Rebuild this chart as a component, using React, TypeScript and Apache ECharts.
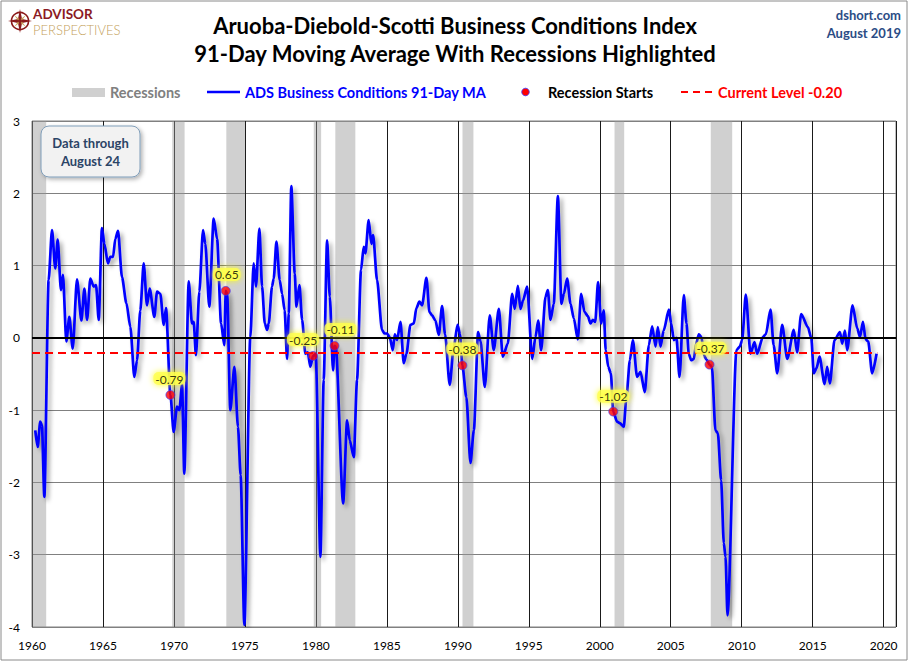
import React, { useEffect, useRef } from "react";
import * as echarts from "echarts";

// ---- Data ----
const adsYears = [
  1960.23, 1960.4, 1960.58, 1960.7, 1960.87, 1961.17, 1961.41, 1961.64, 1961.81, 1962.04, 1962.18, 1962.42, 1962.63, 1962.87,
  1963.17, 1963.48, 1963.69, 1963.88, 1964.11, 1964.35, 1964.51, 1964.7, 1964.93, 1965.1, 1965.35, 1965.52, 1965.71, 1965.87,
  1966.06, 1966.34, 1966.65, 1966.93, 1967.21, 1967.4, 1967.63, 1967.87, 1968.1, 1968.29, 1968.62, 1968.81, 1969.04, 1969.28,
  1969.44, 1969.75, 1969.98, 1970.22, 1970.38, 1970.57, 1970.73, 1971.04, 1971.27, 1971.39, 1971.55, 1971.79, 1972.05, 1972.21,
  1972.49, 1972.8, 1973.04, 1973.32, 1973.55, 1973.65, 1973.75, 1973.97, 1974.26, 1974.51, 1974.7, 1974.96, 1975.38, 1975.62,
  1975.78, 1976.02, 1976.21, 1976.4, 1976.56, 1976.68, 1976.91, 1977.03, 1977.22, 1977.45, 1977.62, 1977.8, 1977.97, 1978.09,
  1978.27, 1978.51, 1978.63, 1978.84, 1979.03, 1979.26, 1979.43, 1979.61, 1979.8, 1979.99, 1980.32, 1980.55, 1980.79, 1980.98,
  1981.21, 1981.31, 1981.4, 1981.92, 1982.2, 1982.39, 1982.67, 1982.9, 1983.18, 1983.37, 1983.49, 1983.72, 1983.91, 1984.03,
  1984.31, 1984.66, 1984.83, 1985.02, 1985.2, 1985.42, 1985.56, 1985.72, 1985.96, 1986.19, 1986.38, 1986.66, 1986.9, 1987.08,
  1987.29, 1987.48, 1987.79, 1988.0, 1988.19, 1988.42, 1988.66, 1988.89, 1989.1, 1989.43, 1989.7, 1989.98, 1990.15, 1990.32,
  1990.6, 1990.89, 1991.13, 1991.43, 1991.6, 1991.9, 1992.25, 1992.53, 1992.89, 1993.17, 1993.52, 1993.83, 1994.01, 1994.23,
  1994.41, 1994.6, 1994.88, 1995.24, 1995.47, 1995.66, 1995.87, 1996.18, 1996.34, 1996.53, 1996.76, 1997.05, 1997.3, 1997.47,
  1997.7, 1997.94, 1998.17, 1998.45, 1998.69, 1998.92, 1999.16, 1999.35, 1999.51, 1999.68, 1999.88, 2000.1, 2000.28, 2000.42,
  2000.6, 2000.78, 2000.95, 2001.22, 2001.41, 2001.69, 2001.88, 2002.12, 2002.33, 2002.63, 2002.87, 2003.17, 2003.46, 2003.69,
  2003.93, 2004.09, 2004.28, 2004.5, 2004.87, 2005.03, 2005.22, 2005.4, 2005.62, 2005.92, 2006.11, 2006.27, 2006.44, 2006.63,
  2006.79, 2006.98, 2007.17, 2007.33, 2007.52, 2007.73, 2007.9, 2008.15, 2008.32, 2008.55, 2008.74, 2008.86, 2009.0, 2009.63,
  2009.87, 2010.03, 2010.29, 2010.62, 2010.9, 2011.09, 2011.49, 2011.7, 2012.03, 2012.25, 2012.5, 2012.85, 2013.21, 2013.67,
  2013.9, 2014.19, 2014.66, 2014.9, 2015.08, 2015.27, 2015.48, 2015.84, 2016.02, 2016.21, 2016.54, 2016.92, 2017.08, 2017.27,
  2017.43, 2017.81, 2018.14, 2018.33, 2018.54, 2018.73, 2018.91, 2019.19, 2019.5,
];
const adsValues = [
  -1.28, -1.51, -1.16, -1.21, -2.2, 0.8, 1.49, 0.96, 1.36, 0.66, 0.87, -0.05, 0.29, -0.15,
  0.81, 0.24, 0.68, 0.25, 0.82, 0.71, 0.73, 0.25, 1.52, 1.3, 1.03, 1.12, 1.12, 1.37,
  1.48, 0.84, 0.48, 0.15, -0.54, -0.31, 0.38, 1.03, 0.45, 0.68, 0.29, 0.64, 0.61, 0.18,
  0.41, -0.79, -1.3, -0.95, -1.0, -0.65, -1.88, 0.78, 0.2, 0.22, -0.24, 0.64, 1.49, 1.3,
  0.43, 1.65, 1.37, 0.2, -0.1, 0.65, 0.6, -1.0, -0.4, -1.23, -1.9, -3.97, 0.01, 1.03,
  0.71, 1.51, 0.71, 0.2, 0.11, 0.2, 0.71, 0.82, 1.33, 0.8, 0.61, 0.38, -0.29, 0.34,
  2.1, 0.89, 0.43, 0.73, 0.25, -0.22, -0.2, -0.4, -0.25, -0.22, -3.03, -0.58, 1.35, 0.57,
  -0.45, -0.11, -0.12, -2.29, -1.14, -1.42, -1.65, -0.58, 0.94, 1.26, 1.17, 1.63, 1.3, 1.42,
  0.8, 0.11, 0.06, 0.06, 0.01, -0.17, 0.05, -0.03, 0.22, -0.35, -0.22, 0.18, 0.2, 0.41,
  0.5, 0.45, 0.83, 0.36, 0.31, 0.24, 0.04, 0.44, 0.05, -0.65, -0.15, 0.18, 0.05, -0.38,
  -0.82, -1.73, -1.28, 0.08, -0.05, -0.68, 0.31, -0.17, 0.4, -0.26, -0.08, 0.61, 0.4, 0.72,
  0.4, 0.52, 0.71, -0.29, 0.01, 0.24, -0.17, 0.57, 0.66, 0.25, 0.47, 1.96, 0.47, 0.61,
  0.82, 0.47, 0.27, -0.02, 0.61, 0.36, 0.3, 0.2, 0.25, 0.22, 0.77, 0.2, 0.38, -0.17,
  -0.4, -0.49, -1.02, -1.16, -1.18, -1.23, -0.82, -0.31, -0.03, -0.54, -0.47, -0.75, -0.1, 0.16,
  -0.12, 0.15, -0.12, 0.1, 0.39, 0.2, -0.03, 0.0, -0.54, 0.59, 0.2, -0.22, -0.31, -0.29,
  -0.08, 0.05, 0.01, -0.24, -0.3, -0.37, -0.4, -1.28, -1.32, -1.97, -2.84, -3.03, -3.84, -0.17,
  -0.12, -0.03, 0.6, -0.22, -0.06, -0.22, 0.01, 0.05, 0.39, -0.1, -0.49, 0.18, -0.29, 0.11,
  -0.2, 0.33, 0.15, 0.0, -0.49, -0.42, -0.26, -0.64, -0.4, -0.63, -0.03, 0.08, -0.08, 0.1,
  -0.17, 0.45, 0.13, 0.01, 0.22, -0.02, -0.05, -0.49, -0.22,
];

const recessionStartYears = [1969.75, 1973.65, 1979.8, 1981.31, 1990.32, 2000.95, 2007.73];
const recessionStartValues = [-0.79, 0.65, -0.25, -0.11, -0.38, -1.02, -0.37];
const recessionLabelOffsets = [[-1, 0], [1, 0], [-10, 0], [6, 0], [0, 0], [0, 1], [1, 0]];

const recessionBandStart = [1960.0, 1969.88, 1973.69, 1979.85, 1981.37, 1990.33, 2001.04, 2007.82];
const recessionBandEnd = [1961.0, 1970.75, 1975.01, 1980.37, 1982.78, 1991.1, 2001.72, 2009.33];

const currentLevel = -0.2;
const currentLevelEnd = 2019.55;
const xTicks = [1960, 1965, 1970, 1975, 1980, 1985, 1990, 1995, 2000, 2005, 2010, 2015, 2020];

const FONT = "Lato, 'Noto Sans', sans-serif";

export default function App() {
  const ref = useRef<HTMLDivElement>(null);

  useEffect(() => {
    document.body.style.margin = "0";
    if (!ref.current) return;
    const chart = echarts.init(ref.current, undefined, { renderer: "svg" });

    const lineData = adsYears.map((y, i) => [y, adsValues[i]]);
    const startData = recessionStartYears.map((y, i) => ({
      value: [y, recessionStartValues[i]],
      label: { offset: recessionLabelOffsets[i] },
    }));
    const bands = recessionBandStart.map((s, i) => [{ xAxis: s }, { xAxis: recessionBandEnd[i] }]);

    const option: any = {
      animation: false,
      backgroundColor: "#ffffff",
      textStyle: { fontFamily: FONT },
      grid: {
        left: 32,
        top: 121,
        width: 864,
        height: 506,
        show: true,
        borderColor: "#808080",
        borderWidth: 1,
      },
      xAxis: {
        type: "value",
        min: 1960,
        max: 2020.87,
        interval: 5,
        axisLine: { show: false },
        axisTick: { show: false },
        axisLabel: {
          color: "#000",
          fontSize: 12,
          fontFamily: FONT,
          margin: 12,
          showMaxLabel: false,
          formatter: (v: number) => (xTicks.indexOf(Math.round(v * 100) / 100) >= 0 ? String(v) : ""),
        },
        splitLine: {
          show: true,
          lineStyle: { color: "#1a1a1a", width: 1 },
        },
      },
      yAxis: {
        type: "value",
        min: -4,
        max: 3,
        interval: 1,
        axisLine: { show: false },
        axisTick: { show: false },
        axisLabel: { color: "#000", fontSize: 12, fontFamily: FONT, margin: 12 },
        splitLine: { show: true, lineStyle: { color: "#808080", width: 1 } },
      },
      series: [
        {
          name: "Recessions",
          type: "line",
          data: [],
          silent: true,
          markArea: {
            silent: true,
            itemStyle: { color: "rgba(150,150,150,0.45)" },
            data: bands,
          },
          z: 1,
        },
        {
          name: "Levels",
          type: "line",
          data: [],
          silent: true,
          z: 2,
          markLine: {
            silent: true,
            symbol: "none",
            label: { show: false },
            data: [
              [
                { coord: [1960, 0], lineStyle: { color: "#000", width: 2, type: "solid" } },
                { coord: [2020.87, 0] },
              ],
            ],
          },
        },
        {
          name: "ADS Business Conditions 91-Day MA",
          type: "line",
          data: lineData,
          showSymbol: false,
          smooth: 0.25,
          smoothMonotone: "x",
          z: 3,
          lineStyle: {
            color: "#0000FF",
            width: 2.7,
            shadowColor: "rgba(0,0,0,0.35)",
            shadowBlur: 4,
            shadowOffsetX: 3,
            shadowOffsetY: 3,
          },
        },
        {
          name: "Current Level",
          type: "line",
          data: [],
          silent: true,
          z: 4,
          markLine: {
            silent: true,
            symbol: "none",
            label: { show: false },
            data: [
              [
                { coord: [1960, currentLevel], lineStyle: { color: "#FF0000", width: 2, type: [8, 5] } },
                { coord: [currentLevelEnd, currentLevel] },
              ],
            ],
          },
        },
        {
          name: "Recession Starts",
          type: "scatter",
          data: startData,
          symbol: "circle",
          symbolSize: 9,
          z: 5,
          itemStyle: { color: "#FF0000", borderColor: "#3a3aff", borderWidth: 0.8 },
          label: {
            show: true,
            position: "top",
            distance: 5,
            formatter: (p: any) => p.value[1].toFixed(2),
            color: "#000",
            fontSize: 12,
            fontFamily: FONT,
            backgroundColor: "#FFFF4D",
            borderRadius: 5,
            padding: [1, 2, 0, 2],
            shadowColor: "#FFFF00",
            shadowBlur: 6,
          },
        },
      ],
      graphic: [
        // outer frame
        { type: "rect", shape: { x: 1, y: 1, width: 906, height: 659 }, style: { fill: "none", stroke: "#8a8a8a", lineWidth: 1 }, z: 100 },
        // logo
        {
          type: "group",
          children: [
            { type: "circle", shape: { cx: 20, cy: 21, r: 8.5 }, style: { fill: "none", stroke: "#8B1A1A", lineWidth: 1.6 } },
            {
              type: "polygon",
              shape: { points: [[20, 9], [22, 19], [32, 21], [22, 23], [20, 33], [18, 23], [8, 21], [18, 19]] },
              style: { fill: "#8B1A1A" },
            },
            {
              type: "polygon",
              shape: { points: [[26, 15], [21.5, 21], [26, 27], [20, 22.5], [14, 27], [18.5, 21], [14, 15], [20, 19.5]] },
              style: { fill: "#C9A45C" },
            },
            { type: "circle", shape: { cx: 20, cy: 21, r: 2 }, style: { fill: "#8B1A1A" } },
            {
              type: "text", x: 33, y: 14,
              style: { text: "ADVISOR", fill: "#8B1A24", font: `bold 13.5px ${FONT}`, verticalAlign: "middle" },
            },
            {
              type: "text", x: 33, y: 29.5,
              style: { text: "PERSPECTIVES", fill: "#C4A15A", font: `300 13px ${FONT}`, verticalAlign: "middle" },
            },
          ],
        },
        // title
        {
          type: "text", x: 455, y: 25,
          style: { text: "Aruoba-Diebold-Scotti Business Conditions Index", fill: "#000", font: `bold 22px ${FONT}`, align: "center", verticalAlign: "middle" },
        },
        {
          type: "text", x: 455, y: 53,
          style: { text: "91-Day Moving Average With Recessions Highlighted", fill: "#000", font: `bold 22px ${FONT}`, align: "center", verticalAlign: "middle" },
        },
        // source
        {
          type: "text", x: 901, y: 15,
          style: { text: "dshort.com", fill: "#2B4C85", font: `bold 13px ${FONT}`, align: "right", verticalAlign: "middle" },
        },
        {
          type: "text", x: 901, y: 33,
          style: { text: "August 2019", fill: "#2B4C85", font: `bold 13px ${FONT}`, align: "right", verticalAlign: "middle" },
        },
        // legend
        { type: "rect", shape: { x: 72, y: 88, width: 33, height: 9 }, style: { fill: "#D0D0D0" } },
        { type: "text", x: 110, y: 92.5, style: { text: "Recessions", fill: "#808080", font: `bold 14.5px ${FONT}`, verticalAlign: "middle" } },
        { type: "line", shape: { x1: 207, y1: 92, x2: 240, y2: 92 }, style: { stroke: "#0000FF", lineWidth: 2.6 } },
        { type: "text", x: 245, y: 92.5, style: { text: "ADS Business Conditions 91-Day MA", fill: "#0000FF", font: `bold 14.5px ${FONT}`, verticalAlign: "middle" } },
        { type: "circle", shape: { cx: 525.5, cy: 92, r: 3.8 }, style: { fill: "#FF0000", stroke: "#3a3aff", lineWidth: 0.8 } },
        { type: "text", x: 548, y: 92.5, style: { text: "Recession Starts", fill: "#000", font: `bold 14.5px ${FONT}`, verticalAlign: "middle" } },
        { type: "line", shape: { x1: 681, y1: 92, x2: 716, y2: 92 }, style: { stroke: "#FF0000", lineWidth: 2, lineDash: [7, 5] } },
        { type: "text", x: 718, y: 92.5, style: { text: "Current Level -0.20", fill: "#FF0000", font: `bold 14.5px ${FONT}`, verticalAlign: "middle" } },
        // data-through note
        {
          type: "rect", z: 50,
          shape: { x: 41, y: 126, width: 99, height: 51, r: 8 },
          style: { fill: "#F2F2F2", stroke: "#7F9DB9", lineWidth: 1, shadowColor: "rgba(0,0,0,0.3)", shadowBlur: 4, shadowOffsetX: 2, shadowOffsetY: 2 },
        },
        {
          type: "text", z: 51, x: 90.5, y: 143,
          style: { text: "Data through", fill: "#2B4466", font: `bold 13px ${FONT}`, align: "center", verticalAlign: "middle" },
        },
        {
          type: "text", z: 51, x: 90.5, y: 161,
          style: { text: "August 24", fill: "#2B4466", font: `bold 13px ${FONT}`, align: "center", verticalAlign: "middle" },
        },
      ],
    };

    chart.setOption(option);
    return () => chart.dispose();
  }, []);

  return (
    <div
      ref={ref}
      style={{ position: "fixed", left: 0, top: 0, width: 910, height: 661, background: "#fff" }}
    />
  );
}
